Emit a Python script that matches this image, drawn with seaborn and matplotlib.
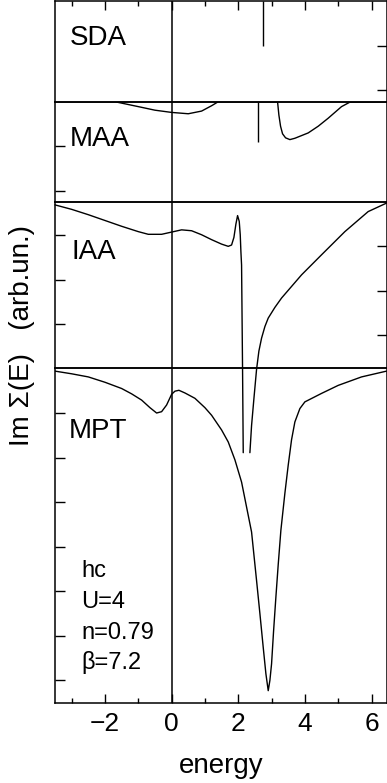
import numpy as np
import pandas as pd
import seaborn as sns
import matplotlib.pyplot as plt

# panel data: energy and Im Sigma (arb. units, 0 at the top line of each panel)
sda_delta_x = [2.75]
sda_delta_y = [-1.0]

maa_delta_x = [2.58]
maa_delta_y = [-0.9]
maa_x = [-3.5, -1.7, -1.0, -0.5, 0.0, 0.5, 0.9, 1.2, 1.4, 3.18, 3.22, 3.27, 3.33,
         3.42, 3.55, 3.7, 4.1, 4.4, 4.7, 5.1, 5.35, 6.45]
maa_y = [0.0, 0.0, -0.11, -0.19, -0.24, -0.27, -0.21, -0.09, 0.0, 0.0, -0.3, -0.55, -0.72,
         -0.81, -0.85, -0.82, -0.7, -0.55, -0.37, -0.11, -0.01, 0.0]

iaa_x1 = [-3.5, -3.0, -2.5, -2.0, -1.5, -1.0, -0.7, -0.3, 0.0, 0.3, 0.6, 0.9, 1.2,
          1.5, 1.7, 1.8, 1.87, 1.93, 1.98, 2.03, 2.06, 2.08, 2.1, 2.13, 2.15]
iaa_y1 = [-0.07, -0.17, -0.29, -0.42, -0.55, -0.67, -0.73, -0.73, -0.68, -0.63, -0.65,
          -0.74, -0.85, -0.95, -1.0, -0.97, -0.8, -0.5, -0.31, -0.44, -0.74, -1.12,
          -1.42, -3.8, -5.63]
iaa_x2 = [2.35, 2.4, 2.47, 2.55, 2.62, 2.7, 2.8, 2.9, 3.1, 3.3, 3.6, 3.9, 4.5, 5.2,
          5.9, 6.45]
iaa_y2 = [-5.63, -5.02, -4.42, -3.76, -3.35, -3.06, -2.8, -2.61, -2.37, -2.16, -1.9,
          -1.64, -1.19, -0.67, -0.22, -0.03]

mpt_x = [-3.5, -3.0, -2.5, -2.0, -1.5, -1.2, -0.9, -0.65, -0.45, -0.3, -0.15, 0.0, 0.1,
         0.22, 0.4, 0.7, 1.0, 1.2, 1.5, 1.7, 1.9, 2.1, 2.4, 2.55, 2.65, 2.75, 2.83, 2.9,
         2.95, 3.0, 3.06, 3.13, 3.2, 3.28, 3.4, 3.5, 3.6, 3.7, 3.85, 4.0, 4.5, 5.0, 5.7, 6.45]
mpt_y = [-0.06, -0.12, -0.19, -0.31, -0.45, -0.57, -0.71, -0.88, -1.0, -0.97, -0.82, -0.58,
         -0.51, -0.49, -0.55, -0.67, -0.88, -1.05, -1.38, -1.65, -2.05, -2.55, -3.67, -4.76,
         -5.5, -6.26, -6.85, -7.23, -7.0, -6.63, -5.9, -5.13, -4.4, -3.63, -2.8, -2.17, -1.6,
         -1.2, -0.9, -0.75, -0.56, -0.38, -0.19, -0.06]

panel_names = ['SDA', 'MAA', 'IAA', 'MPT']
panel_spans = [2.26, 2.245, 3.74, 7.5]
left_ticks = [[], [-1, -2], [-0.75, -1.76, -2.75], [-1, -2, -3, -4, -5, -6, -7]]
right_ticks = [[-1, -2], [], [-1, -2, -3], []]
params_text = ['hc', 'U=4', 'n=0.79', 'β=7.2']

W, H = 387, 783

sns.set_theme(style='ticks', rc={'text.color': 'black', 'axes.labelcolor': 'black',
                                 'xtick.color': 'black', 'ytick.color': 'black',
                                 'axes.edgecolor': 'black'})
plt.rcParams['font.family'] = ['Liberation Sans', 'DejaVu Sans']
plt.rcParams['axes.unicode_minus'] = True

fig = plt.figure(figsize=(W / 100, H / 100), dpi=100, facecolor='white')
gs = fig.add_gridspec(4, 1, height_ratios=panel_spans, hspace=0,
                      left=55 / W, right=386.5 / W, top=1 - 1 / H, bottom=1 - 702.7 / H)
axes = [fig.add_subplot(gs[0])]
for i in range(1, 4):
    axes.append(fig.add_subplot(gs[i], sharex=axes[0]))

lw_curve = 1.0
for i, ax in enumerate(axes):
    ax.set_facecolor('none')
    ax.set_xlim(-3.5, 6.45)
    ax.set_ylim(-panel_spans[i], 0)
    for sp in ax.spines.values():
        sp.set_linewidth(1.1)
        sp.set_color('black')
    ax.axvline(0, color='black', lw=1.1)
    ax.set_yticks(left_ticks[i])
    ax.tick_params(axis='y', which='both', direction='in', left=True, right=False,
                   labelleft=False, length=7, width=1, color='black')
    ax.set_xticks([-2, 0, 2, 4, 6])
    ax.set_xticks([-3, -1, 1, 3, 5], minor=True)
    ax.tick_params(axis='x', which='both', direction='in', bottom=False, top=False,
                   labelbottom=False, labeltop=False, width=1, color='black')
    ax.tick_params(axis='x', which='major', length=6.5)
    ax.tick_params(axis='x', which='minor', length=3.8)
    ax.set_xlabel('')
    ax.set_ylabel('')
    if right_ticks[i]:
        tw = ax.twinx()
        tw.set_facecolor('none')
        tw.set_ylim(-panel_spans[i], 0)
        tw.set_yticks(right_ticks[i])
        tw.tick_params(axis='y', direction='in', right=True, left=False,
                       labelright=False, length=7, width=1, color='black')
        for sp in tw.spines.values():
            sp.set_visible(False)

axes[0].tick_params(axis='x', which='both', top=True)
axes[3].tick_params(axis='x', which='both', bottom=True, labelbottom=True,
                    labelsize=19, pad=7, labelcolor='black')

# SDA and MAA delta peaks
axes[0].vlines(sda_delta_x, sda_delta_y, 0, color='black', lw=lw_curve)
axes[1].vlines(maa_delta_x, maa_delta_y, 0, color='black', lw=lw_curve)

sns.lineplot(x=maa_x, y=maa_y, ax=axes[1], color='black', lw=lw_curve,
             sort=False, estimator=None)
for xs, ys in [(iaa_x1, iaa_y1), (iaa_x2, iaa_y2)]:
    sns.lineplot(x=xs, y=ys, ax=axes[2], color='black', lw=lw_curve,
                 sort=False, estimator=None, clip_on=False)
sns.lineplot(x=mpt_x, y=mpt_y, ax=axes[3], color='black', lw=lw_curve,
             sort=False, estimator=None)

# panel labels
label_pos = [(70, 45), (70, 146), (72, 259.3), (69, 438.3)]
for name, (px, py) in zip(panel_names, label_pos):
    fig.text(px / W, 1 - py / H, name, fontsize=20, ha='left', va='baseline',
             color='black')

for k, t in enumerate(params_text):
    fig.text(81 / W, 1 - (577.3 + 30.7 * k) / H, t, fontsize=17, ha='left',
             va='baseline', color='black')

fig.text(22 / W, 1 - 335 / H, 'Im Σ(E)   (arb.un.)', fontsize=20, rotation=90,
         ha='center', va='center', color='black')
fig.text(220.7 / W, 1 - 772.7 / H, 'energy', fontsize=20, ha='center', va='baseline',
         color='black')

fig.savefig('out.png', dpi=100, facecolor='white')
